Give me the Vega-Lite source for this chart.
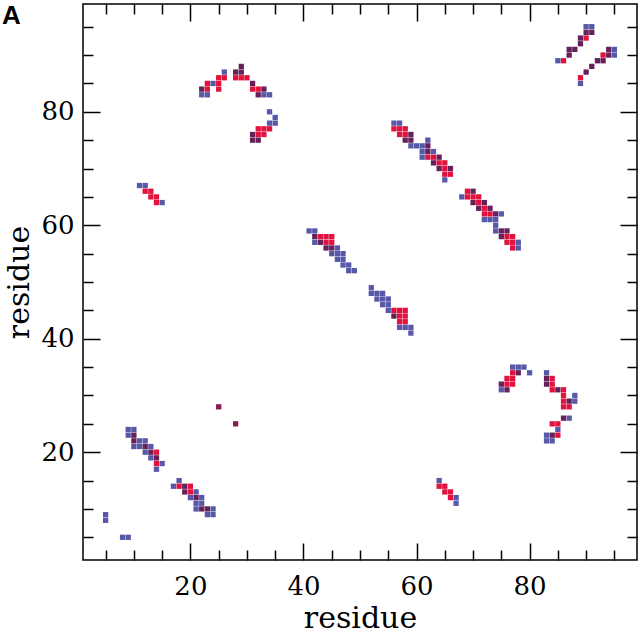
{
  "$schema": "https://vega.github.io/schema/vega-lite/v6.json",
  "width": 554,
  "height": 556,
  "autosize": {"type": "none"},
  "padding": {"left": 83, "top": 4, "right": 3, "bottom": 77},
  "background": "white",
  "title": {"text": "A", "anchor": "start", "frame": "bounds", "offset": -26, "dx": -3, "font": "Liberation Sans", "fontSize": 26, "fontWeight": "bold", "color": "black"},
  "config": {
    "view": {"stroke": "black", "strokeWidth": 1.5},
    "axis": {"domain": false, "grid": false, "tickColor": "black", "tickWidth": 1.5, "labelFont": "DejaVu Serif", "labelFontSize": 26, "labelColor": "black", "titleFont": "DejaVu Serif", "titleFontSize": 30, "titleFontWeight": "normal", "titleColor": "black"}
  },
  "data": {"values": [
    {"i":26,"j":87,"t":"blue"},{"i":25,"j":86,"t":"red"},{"i":26,"j":86,"t":"red"},{"i":23,"j":85,"t":"red"},{"i":24,"j":85,"t":"blue"},{"i":25,"j":85,"t":"red"},{"i":22,"j":84,"t":"purple"},{"i":23,"j":84,"t":"red"},{"i":25,"j":84,"t":"red"},{"i":22,"j":83,"t":"blue"},{"i":23,"j":83,"t":"blue"},
    {"i":29,"j":88,"t":"purple"},{"i":28,"j":87,"t":"purple"},{"i":29,"j":87,"t":"purple"},{"i":28,"j":86,"t":"red"},{"i":29,"j":86,"t":"red"},{"i":30,"j":86,"t":"red"},{"i":31,"j":85,"t":"purple"},{"i":31,"j":84,"t":"red"},{"i":32,"j":84,"t":"red"},{"i":33,"j":84,"t":"purple"},{"i":32,"j":83,"t":"purple"},{"i":33,"j":83,"t":"blue"},{"i":34,"j":83,"t":"blue"},
    {"i":34,"j":80,"t":"blue"},{"i":35,"j":79,"t":"blue"},{"i":34,"j":78,"t":"blue"},{"i":35,"j":78,"t":"blue"},{"i":32,"j":77,"t":"red"},{"i":33,"j":77,"t":"red"},{"i":34,"j":77,"t":"red"},{"i":31,"j":76,"t":"purple"},{"i":32,"j":76,"t":"red"},{"i":33,"j":76,"t":"red"},{"i":31,"j":75,"t":"purple"},{"i":32,"j":75,"t":"purple"},
    {"i":90,"j":95,"t":"blue"},{"i":91,"j":95,"t":"blue"},{"i":90,"j":94,"t":"purple"},{"i":91,"j":94,"t":"purple"},{"i":89,"j":93,"t":"purple"},{"i":90,"j":93,"t":"red"},{"i":89,"j":92,"t":"purple"},{"i":87,"j":91,"t":"purple"},{"i":88,"j":91,"t":"purple"},{"i":87,"j":90,"t":"purple"},{"i":85,"j":89,"t":"blue"},{"i":86,"j":89,"t":"red"},
    {"i":94,"j":91,"t":"purple"},{"i":95,"j":91,"t":"blue"},{"i":93,"j":90,"t":"red"},{"i":94,"j":90,"t":"purple"},{"i":95,"j":90,"t":"blue"},{"i":92,"j":89,"t":"purple"},{"i":93,"j":89,"t":"purple"},{"i":91,"j":88,"t":"purple"},{"i":90,"j":87,"t":"purple"},{"i":89,"j":86,"t":"red"},{"i":89,"j":85,"t":"blue"},
    {"i":56,"j":78,"t":"blue"},{"i":57,"j":78,"t":"blue"},{"i":56,"j":77,"t":"red"},{"i":57,"j":77,"t":"red"},{"i":58,"j":77,"t":"red"},{"i":57,"j":76,"t":"red"},{"i":58,"j":76,"t":"red"},{"i":59,"j":76,"t":"purple"},{"i":58,"j":75,"t":"purple"},{"i":59,"j":75,"t":"purple"},{"i":62,"j":75,"t":"blue"},{"i":59,"j":74,"t":"blue"},{"i":60,"j":74,"t":"blue"},{"i":61,"j":74,"t":"blue"},{"i":62,"j":74,"t":"purple"},{"i":61,"j":73,"t":"blue"},{"i":62,"j":73,"t":"purple"},{"i":63,"j":73,"t":"blue"},{"i":61,"j":72,"t":"blue"},{"i":62,"j":72,"t":"red"},{"i":63,"j":72,"t":"red"},{"i":64,"j":72,"t":"purple"},{"i":63,"j":71,"t":"purple"},{"i":64,"j":71,"t":"red"},{"i":65,"j":71,"t":"red"},{"i":64,"j":70,"t":"purple"},{"i":65,"j":70,"t":"red"},{"i":66,"j":70,"t":"purple"},{"i":65,"j":69,"t":"red"},{"i":66,"j":69,"t":"red"},{"i":65,"j":68,"t":"blue"},
    {"i":69,"j":66,"t":"red"},{"i":70,"j":66,"t":"purple"},{"i":68,"j":65,"t":"blue"},{"i":69,"j":65,"t":"red"},{"i":70,"j":65,"t":"red"},{"i":71,"j":65,"t":"red"},{"i":70,"j":64,"t":"purple"},{"i":71,"j":64,"t":"red"},{"i":72,"j":64,"t":"purple"},{"i":71,"j":63,"t":"purple"},{"i":72,"j":63,"t":"red"},{"i":73,"j":63,"t":"purple"},{"i":72,"j":62,"t":"red"},{"i":73,"j":62,"t":"red"},{"i":74,"j":62,"t":"purple"},{"i":75,"j":62,"t":"blue"},{"i":72,"j":61,"t":"blue"},{"i":73,"j":61,"t":"blue"},{"i":74,"j":61,"t":"blue"},{"i":74,"j":60,"t":"blue"},{"i":74,"j":59,"t":"blue"},{"i":75,"j":59,"t":"purple"},{"i":76,"j":59,"t":"purple"},{"i":75,"j":58,"t":"purple"},{"i":76,"j":58,"t":"red"},{"i":77,"j":58,"t":"red"},{"i":76,"j":57,"t":"red"},{"i":77,"j":57,"t":"red"},{"i":78,"j":57,"t":"blue"},{"i":77,"j":56,"t":"red"},{"i":78,"j":56,"t":"blue"},
    {"i":41,"j":59,"t":"blue"},{"i":42,"j":59,"t":"blue"},{"i":42,"j":58,"t":"purple"},{"i":43,"j":58,"t":"red"},{"i":44,"j":58,"t":"red"},{"i":45,"j":58,"t":"red"},{"i":42,"j":57,"t":"blue"},{"i":43,"j":57,"t":"purple"},{"i":44,"j":57,"t":"red"},{"i":45,"j":57,"t":"red"},{"i":44,"j":56,"t":"purple"},{"i":45,"j":56,"t":"purple"},{"i":46,"j":56,"t":"blue"},{"i":45,"j":55,"t":"blue"},{"i":46,"j":55,"t":"blue"},{"i":47,"j":55,"t":"blue"},{"i":46,"j":54,"t":"blue"},{"i":47,"j":54,"t":"blue"},{"i":47,"j":53,"t":"blue"},{"i":48,"j":53,"t":"blue"},{"i":48,"j":52,"t":"blue"},{"i":49,"j":52,"t":"blue"},
    {"i":52,"j":49,"t":"blue"},{"i":52,"j":48,"t":"blue"},{"i":53,"j":48,"t":"blue"},{"i":54,"j":48,"t":"blue"},{"i":53,"j":47,"t":"blue"},{"i":54,"j":47,"t":"blue"},{"i":55,"j":47,"t":"blue"},{"i":54,"j":46,"t":"blue"},{"i":55,"j":46,"t":"blue"},{"i":55,"j":45,"t":"blue"},{"i":56,"j":45,"t":"red"},{"i":57,"j":45,"t":"red"},{"i":58,"j":45,"t":"red"},{"i":56,"j":44,"t":"purple"},{"i":57,"j":44,"t":"red"},{"i":58,"j":44,"t":"red"},{"i":57,"j":43,"t":"red"},{"i":58,"j":43,"t":"red"},{"i":57,"j":42,"t":"blue"},{"i":58,"j":42,"t":"blue"},{"i":59,"j":42,"t":"blue"},{"i":59,"j":41,"t":"blue"},
    {"i":11,"j":67,"t":"blue"},{"i":12,"j":67,"t":"blue"},{"i":12,"j":66,"t":"red"},{"i":13,"j":66,"t":"red"},{"i":13,"j":65,"t":"red"},{"i":14,"j":65,"t":"red"},{"i":14,"j":64,"t":"red"},{"i":15,"j":64,"t":"blue"},
    {"i":77,"j":35,"t":"blue"},{"i":78,"j":35,"t":"blue"},{"i":79,"j":35,"t":"blue"},{"i":77,"j":34,"t":"red"},{"i":78,"j":34,"t":"purple"},{"i":80,"j":34,"t":"blue"},{"i":76,"j":33,"t":"red"},{"i":77,"j":33,"t":"red"},{"i":75,"j":32,"t":"purple"},{"i":76,"j":32,"t":"red"},{"i":77,"j":32,"t":"red"},{"i":75,"j":31,"t":"blue"},{"i":76,"j":31,"t":"purple"},
    {"i":83,"j":34,"t":"blue"},{"i":83,"j":33,"t":"purple"},{"i":84,"j":33,"t":"red"},{"i":83,"j":32,"t":"purple"},{"i":84,"j":32,"t":"red"},{"i":84,"j":31,"t":"red"},{"i":85,"j":31,"t":"purple"},{"i":86,"j":31,"t":"red"},{"i":86,"j":30,"t":"red"},{"i":88,"j":30,"t":"blue"},{"i":86,"j":29,"t":"red"},{"i":87,"j":29,"t":"purple"},{"i":88,"j":29,"t":"blue"},{"i":86,"j":28,"t":"red"},{"i":87,"j":28,"t":"red"},{"i":86,"j":26,"t":"purple"},{"i":87,"j":26,"t":"blue"},{"i":84,"j":25,"t":"red"},{"i":85,"j":25,"t":"red"},{"i":85,"j":24,"t":"blue"},{"i":83,"j":23,"t":"blue"},{"i":84,"j":23,"t":"purple"},{"i":85,"j":23,"t":"red"},{"i":83,"j":22,"t":"blue"},{"i":84,"j":22,"t":"blue"},
    {"i":9,"j":24,"t":"blue"},{"i":10,"j":24,"t":"blue"},{"i":9,"j":23,"t":"blue"},{"i":10,"j":23,"t":"purple"},{"i":10,"j":22,"t":"purple"},{"i":11,"j":22,"t":"blue"},{"i":12,"j":22,"t":"blue"},{"i":10,"j":21,"t":"blue"},{"i":11,"j":21,"t":"blue"},{"i":12,"j":21,"t":"purple"},{"i":13,"j":21,"t":"blue"},{"i":12,"j":20,"t":"blue"},{"i":13,"j":20,"t":"purple"},{"i":14,"j":20,"t":"red"},{"i":13,"j":19,"t":"blue"},{"i":14,"j":19,"t":"purple"},{"i":14,"j":18,"t":"red"},{"i":15,"j":18,"t":"blue"},{"i":14,"j":17,"t":"blue"},
    {"i":18,"j":15,"t":"blue"},{"i":17,"j":14,"t":"blue"},{"i":18,"j":14,"t":"red"},{"i":19,"j":14,"t":"purple"},{"i":20,"j":14,"t":"red"},{"i":19,"j":13,"t":"purple"},{"i":20,"j":13,"t":"red"},{"i":21,"j":13,"t":"blue"},{"i":20,"j":12,"t":"blue"},{"i":21,"j":12,"t":"purple"},{"i":22,"j":12,"t":"blue"},{"i":21,"j":11,"t":"blue"},{"i":22,"j":11,"t":"blue"},{"i":21,"j":10,"t":"blue"},{"i":22,"j":10,"t":"purple"},{"i":23,"j":10,"t":"purple"},{"i":24,"j":10,"t":"blue"},{"i":23,"j":9,"t":"blue"},{"i":24,"j":9,"t":"blue"},
    {"i":5,"j":9,"t":"blue"},{"i":5,"j":8,"t":"blue"},{"i":8,"j":5,"t":"blue"},{"i":9,"j":5,"t":"blue"},
    {"i":25,"j":28,"t":"magenta"},{"i":28,"j":25,"t":"magenta"},
    {"i":64,"j":15,"t":"blue"},{"i":64,"j":14,"t":"red"},{"i":65,"j":14,"t":"red"},{"i":65,"j":13,"t":"red"},{"i":66,"j":13,"t":"red"},{"i":66,"j":12,"t":"red"},{"i":67,"j":12,"t":"blue"},{"i":67,"j":11,"t":"blue"}
  ]},
  "resolve": {"axis": {"x": "independent", "y": "independent"}},
  "layer": [
    {
      "mark": {"type": "square", "size": 28, "opacity": 1},
      "encoding": {
        "x": {"field": "i", "type": "quantitative", "scale": {"domain": [1, 99], "nice": false, "zero": false},
              "axis": {"orient": "bottom", "values": [20, 40, 60, 80], "tickSize": -17, "labelPadding": 30, "title": "residue", "titlePadding": 4}},
        "y": {"field": "j", "type": "quantitative", "scale": {"domain": [1, 99], "nice": false, "zero": false},
              "axis": {"orient": "left", "values": [20, 40, 60, 80], "tickSize": -17, "labelPadding": 26, "title": "residue", "titlePadding": 6}},
        "color": {"field": "t", "type": "nominal", "scale": {"domain": ["blue", "red", "purple", "magenta"], "range": ["#5759a8", "#e2123e", "#66215a", "#8c1a56"]}, "legend": null}
      }
    },
    {
      "mark": {"type": "point", "opacity": 0},
      "encoding": {
        "x": {"field": "i", "type": "quantitative", "scale": {"domain": [1, 99], "nice": false, "zero": false},
              "axis": {"orient": "bottom", "values": [5, 10, 15, 25, 30, 35, 45, 50, 55, 65, 70, 75, 85, 90, 95], "tickSize": -10, "labels": false, "title": null}},
        "y": {"field": "j", "type": "quantitative", "scale": {"domain": [1, 99], "nice": false, "zero": false},
              "axis": {"orient": "left", "values": [5, 10, 15, 25, 30, 35, 45, 50, 55, 65, 70, 75, 85, 90, 95], "tickSize": -10, "labels": false, "title": null}}
      }
    },
    {
      "mark": {"type": "point", "opacity": 0},
      "encoding": {
        "x": {"field": "i", "type": "quantitative", "scale": {"domain": [1, 99], "nice": false, "zero": false},
              "axis": {"orient": "top", "values": [20, 40, 60, 80], "tickSize": -17, "labels": false, "title": null}},
        "y": {"field": "j", "type": "quantitative", "scale": {"domain": [1, 99], "nice": false, "zero": false},
              "axis": {"orient": "right", "values": [20, 40, 60, 80], "tickSize": -17, "labels": false, "title": null}}
      }
    },
    {
      "mark": {"type": "point", "opacity": 0},
      "encoding": {
        "x": {"field": "i", "type": "quantitative", "scale": {"domain": [1, 99], "nice": false, "zero": false},
              "axis": {"orient": "top", "values": [5, 10, 15, 25, 30, 35, 45, 50, 55, 65, 70, 75, 85, 90, 95], "tickSize": -10, "labels": false, "title": null}},
        "y": {"field": "j", "type": "quantitative", "scale": {"domain": [1, 99], "nice": false, "zero": false},
              "axis": {"orient": "right", "values": [5, 10, 15, 25, 30, 35, 45, 50, 55, 65, 70, 75, 85, 90, 95], "tickSize": -10, "labels": false, "title": null}}
      }
    }
  ]
}
